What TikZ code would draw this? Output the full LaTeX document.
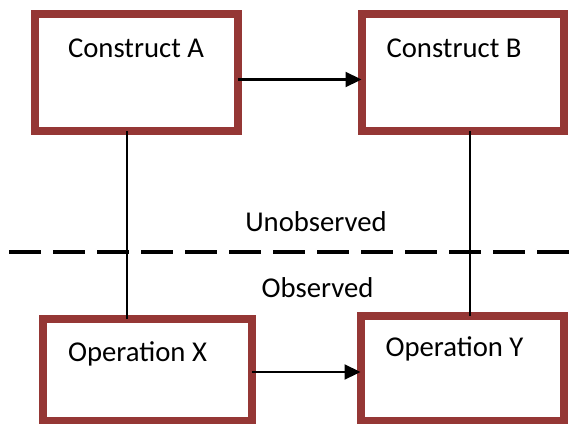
\documentclass[tikz,border=0pt]{standalone}
\usepackage{fontspec}
\setmainfont{Carlito}
\usetikzlibrary{arrows.meta,positioning}
\definecolor{boxred}{RGB}{149,55,53}

\begin{document}
\begin{tikzpicture}[x=1pt,y=-1pt,
    every node/.style={font=\fontsize{28.7}{34}\selectfont},
    construct/.style={draw=boxred,line width=8pt,rectangle,inner sep=0pt,outer sep=0pt},
    lbl/.style={anchor=base,inner sep=0pt},
    link/.style={line width=2.2pt,-{Triangle[length=16pt,width=15pt]}},
    tie/.style={line width=1.5pt}]
        \useasboundingbox (0,0) rectangle (578,423);
        % boundary between the two levels
        \coordinate (dl) at (9,252);
        \coordinate (dr) at (569,252);
        \draw[line width=4pt,dash pattern=on 32pt off 12pt] (dl) -- (dr);
        \node[lbl] (unobs) at (316,231) {Unobserved};
        \node[lbl] (obs) at (317.5,297) {Observed};
        % boxes
        \node[construct,minimum width=203pt,minimum height=117pt] (conA) at (136.5,72.5) {};
        \node[construct,minimum width=202.5pt,minimum height=117pt] (conB) at (462.75,72.5) {};
        \node[construct,minimum width=209pt,minimum height=101.5pt] (opX) at (147.5,369.75) {};
        \node[construct,minimum width=203.5pt,minimum height=105pt] (opY) at (462.25,368) {};
        \node[lbl] (tA) at (136,57) {Construct A};
        \node[lbl] (tB) at (454,57) {Construct B};
        \node[lbl] (tX) at (137.5,361) {Operation X};
        \node[lbl] (tY) at (454.5,356) {Operation Y};
        % connectors
        \coordinate (ytop) at (0,79.5);
        \coordinate (ybot) at (0,372);
        \coordinate (xl) at (127,0);
        \coordinate (xr) at (470,0);
        \draw[link] (conA.east |- ytop) -- (conB.west |- ytop);
        \draw[link] (opX.east |- ybot) -- (opY.west |- ybot);
        \draw[tie] (conA.south -| xl) -- (opX.north -| xl);
        \draw[tie] (conB.south -| xr) -- (opY.north -| xr);
      \end{tikzpicture}
\end{document}
